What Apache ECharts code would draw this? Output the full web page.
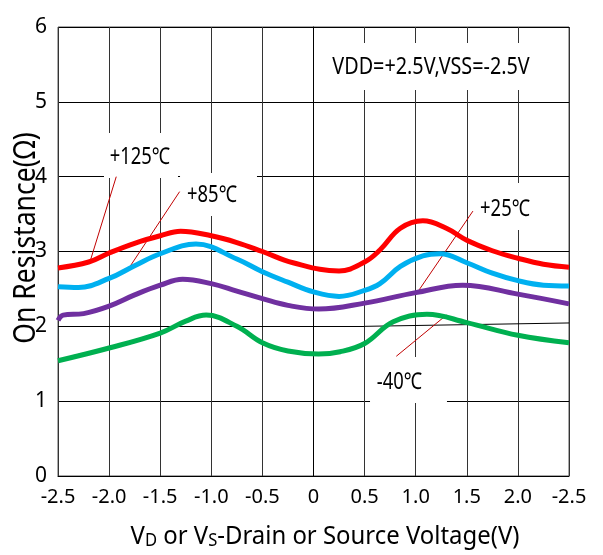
<!DOCTYPE html>
<html>
<head>
<meta charset="utf-8">
<script src="https://cdn.jsdelivr.net/npm/echarts@6/dist/echarts.min.js"></script>
<style>
html,body{margin:0;padding:0;background:#fff;}
#c{width:603px;height:555px;}
</style>
</head>
<body>
<div id="c"></div>
<script>
// ---- data ----
var xTickLabels = ['-2.5','-2.0','-1.5','-1.0','-0.5','0','0.5','1.0','1.5','2.0','-2.5'];
var x125 = [-2.5,-2.2,-2.0,-1.75,-1.5,-1.3,-1.0,-0.75,-0.5,-0.2,0.25,0.5,0.65,0.85,1.07,1.3,1.5,1.75,2.0,2.25,2.5];
var r125 = [2.78,2.86,2.98,3.11,3.21,3.27,3.21,3.12,3.00,2.85,2.74,2.86,3.02,3.31,3.41,3.31,3.15,3.01,2.91,2.83,2.79];
var x85  = [-2.5,-2.3,-2.0,-1.75,-1.5,-1.15,-0.75,-0.5,-0.25,0,0.25,0.5,0.65,0.85,1.07,1.24,1.5,1.75,2.0,2.25,2.5];
var r85  = [2.53,2.52,2.64,2.81,2.97,3.10,2.90,2.73,2.59,2.46,2.40,2.48,2.57,2.80,2.94,2.97,2.85,2.71,2.61,2.55,2.54];
var x25  = [-2.5,-2.45,-2.25,-2.0,-1.75,-1.5,-1.28,-1.0,-0.75,-0.5,-0.25,0.05,0.5,1.0,1.46,2.0,2.5];
var r25  = [2.08,2.15,2.17,2.27,2.42,2.55,2.63,2.57,2.47,2.37,2.28,2.23,2.31,2.45,2.55,2.43,2.30];
var xm40 = [-2.5,-2.0,-1.5,-1.25,-1.05,-0.75,-0.5,-0.25,0.05,0.26,0.5,0.78,1.11,1.5,2.0,2.5];
var rm40 = [1.54,1.71,1.91,2.07,2.15,2.00,1.78,1.67,1.63,1.66,1.77,2.06,2.16,2.05,1.88,1.78];
var seriesNames = ['+125℃','+85℃','+25℃','-40℃'];
var seriesColors = ['#ff0000','#00b0f0','#7030a0','#00b050'];
var noteText = 'VDD=+2.5V,VSS=-2.5V';

function pairs(xs, ys){ return xs.map(function(v,i){ return [v, ys[i]]; }); }

var FONT = "'Noto Sans',sans-serif";
var chart = echarts.init(document.getElementById('c'));

var curves = [[x125,r125],[x85,r85],[x25,r25],[xm40,rm40]].map(function(d, i){
  return {
    name: seriesNames[i], type: 'line', data: pairs(d[0], d[1]), smooth: 0.4,
    symbol: 'none', z: 5,
    lineStyle: { color: seriesColors[i], width: 5 }
  };
});

var RED = { color: '#c00000', width: 1, type: 'solid' };
var BLK = { color: '#000', width: 1, type: 'solid' };

var annot = {
  type: 'line', data: [], z: 4, silent: true,
  markLine: {
    silent: true, symbol: ['none','none'], label: { show: false },
    lineStyle: BLK,
    data: [
      [{ coord: [-2.5, 2], lineStyle: BLK }, { coord: [0.5, 2] }],
      [{ coord: [0.5, 2], lineStyle: BLK }, { coord: [2.5, 2.045] }],
      [{ coord: [-1.93, 4.0], lineStyle: RED }, { coord: [-2.19, 2.85] }],
      [{ coord: [-1.31, 3.80], lineStyle: RED }, { coord: [-1.81, 2.77] }],
      [{ coord: [1.56, 3.54], lineStyle: RED }, { coord: [1.0, 2.42] }],
      [{ coord: [1.30, 2.15], lineStyle: RED }, { coord: [0.81, 1.60] }]
    ]
  }
};

chart.setOption({
  animation: false,
  grid: { left: 58, right: 34, top: 27, bottom: 79, show: true, borderColor: '#555', borderWidth: 1 },
  xAxis: {
    type: 'value', min: -2.5, max: 2.5, interval: 0.5,
    axisLine: { show: true, onZero: false, lineStyle: { color: '#000', width: 1 } },
    axisTick: { show: false },
    axisLabel: { color: '#000', fontFamily: FONT, fontSize: 20, margin: 11,
      formatter: function(v, i){ return xTickLabels[i]; } },
    splitLine: { show: true, lineStyle: { color: '#333', width: 1 } }
  },
  yAxis: {
    type: 'value', min: 0, max: 6, interval: 1,
    axisLine: { show: true, lineStyle: { color: '#000', width: 1 } },
    axisTick: { show: false },
    axisLabel: { color: '#000', fontFamily: FONT, fontSize: 21, margin: 11 },
    splitLine: { show: true, lineStyle: { color: ['#000','#000','rgba(0,0,0,0)','#000','#000','#000','#000'], width: 1 } }
  },
  series: curves.concat([annot])
});

// annotation boxes anchored in data coordinates: [x1, y1, x2, y2, textX, textY]
var boxes = [
  [seriesNames[0], [-2.050, 4.584, -1.326, 3.982, -1.698, 4.263], 23, 0.80],
  [seriesNames[1], [-1.306, 4.049, -0.553, 3.475, -0.993, 3.755], 23, 0.80],
  [seriesNames[2], [1.561, 3.916, 2.314, 3.287, 1.874, 3.568], 23, 0.80],
  [seriesNames[3], [0.553, 1.590, 1.306, 0.976, 0.841, 1.256], 23, 0.80],
  [noteText,       [0.142, 5.786, 2.295, 5.158, 1.150, 5.466], 23, 0.86]
];
var gfx = [];
boxes.forEach(function(b){
  var c = b[1];
  var p1 = chart.convertToPixel({ gridIndex: 0 }, [c[0], c[1]]);
  var p2 = chart.convertToPixel({ gridIndex: 0 }, [c[2], c[3]]);
  var pt = chart.convertToPixel({ gridIndex: 0 }, [c[4], c[5]]);
  gfx.push({ type: 'rect', z: 3, silent: true,
    shape: { x: p1[0], y: p1[1], width: p2[0] - p1[0], height: p2[1] - p1[1] },
    style: { fill: '#fff' } });
  gfx.push({ type: 'text', z: 4, silent: true, x: pt[0], y: pt[1], scaleX: b[3],
    style: { text: b[0], fill: '#000', font: b[2] + 'px ' + FONT, align: 'center', verticalAlign: 'middle' } });
});
gfx.push({ type: 'text', x: 26, y: 238, rotation: Math.PI/2, scaleX: 0.885, silent: true,
  style: { text: 'On Resistance(Ω)', fill: '#000', font: '30px ' + FONT, align: 'center', verticalAlign: 'middle' } });
gfx.push({ type: 'text', x: 325, y: 537, scaleX: 0.92, silent: true,
  style: { text: 'V{s|D} or V{s|S}-Drain or Source Voltage(V)', fill: '#000', font: '26px ' + FONT,
    align: 'center', verticalAlign: 'middle',
    rich: { s: { fontSize: 18, fontFamily: FONT, verticalAlign: 'bottom', lineHeight: 26 } } } });
chart.setOption({ graphic: gfx });
</script>
</body>
</html>
